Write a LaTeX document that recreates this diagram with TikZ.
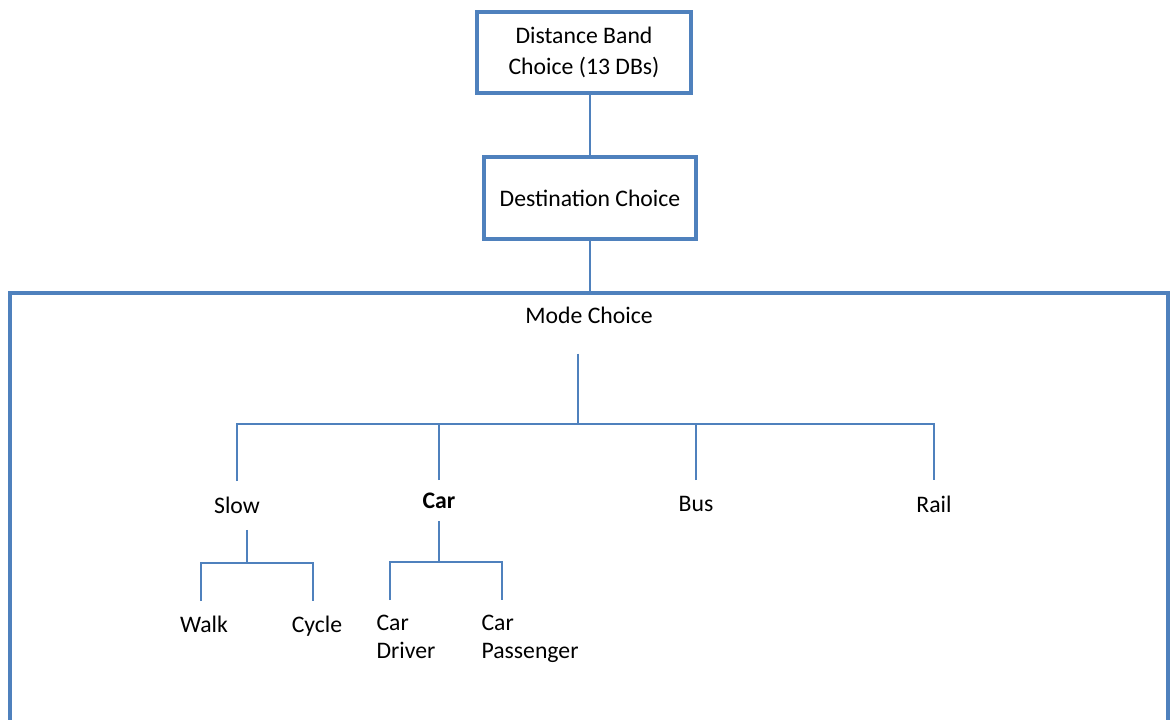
\documentclass[tikz,border=0pt]{standalone}
\usepackage{fontspec}
\setmainfont{Carlito}
\usetikzlibrary{positioning}
\definecolor{boxblue}{RGB}{79,129,189}

\tikzset{
  choicebox/.style={draw=boxblue, line width=2.3pt, align=center, inner sep=2pt},
  frame/.style={draw=boxblue, line width=2.3pt},
  link/.style={draw=boxblue, line width=0.9pt},
  alt/.style={inner xsep=0pt, inner ysep=9pt, anchor=north},
  leaf/.style={inner xsep=0pt, inner ysep=8.5pt, anchor=north, align=left},
}

\begin{document}
\begin{tikzpicture}[x=0.02cm, y=-0.02cm, font=\fontsize{13.5}{18}\selectfont]
\useasboundingbox (0,0) rectangle (1170,720);

% upper levels
\node[choicebox, minimum width=4.28cm, minimum height=1.62cm] (band) at (584,52.5) {Distance Band\\Choice (13 DBs)};
\node[choicebox, minimum width=4.24cm, minimum height=1.64cm] (dest) at (590,198) {Destination Choice};
\draw[link] (dest.north |- band.south) -- (dest.north);

% mode choice frame
\draw[frame] (10,722) -- (10,293) -- (1168,293) -- (1168,722);
\coordinate (frametop) at (590,293);
\draw[link] (dest.south) -- (frametop);
\node[inner ysep=17pt] (mode) at (589,315) {Mode Choice};

% main modes
\coordinate (bar) at (578,424);
\node[alt] (slow) at (237,481) {Slow};
\node[alt, inner ysep=7pt] (car) at (439,480) {\bfseries Car};
\node[alt] (bus) at (696,480) {Bus};
\node[alt] (rail) at (934,480) {Rail};
\draw[link] (mode.south -| bar) -- (bar);
\draw[link] (slow.north) |- (bar) -| (rail.north);
\draw[link] (car.north) -- (car.north |- bar);
\draw[link] (bus.north) -- (bus.north |- bar);

% slow modes
\coordinate (slowfork) at (247,563);
\node[leaf] (walk) at (204,601) {Walk};
\node[leaf] (cycle) at (317,601) {Cycle};
\draw[link] (slowfork |- slow.south) -- (slowfork);
\draw[link] ([xshift=-0.06cm]walk.north) |- (slowfork) -| ([xshift=-0.08cm]cycle.north);

% car modes
\coordinate (carfork) at (439,562);
\node[leaf, font=\fontsize{13.5}{16}\selectfont] (cardrv) at (406,600) {Car\\Driver};
\node[leaf, font=\fontsize{13.5}{16}\selectfont] (carpas) at (530,600) {Car\\Passenger};
\draw[link] (car.south) -- (carfork);
\draw[link] ([xshift=-0.32cm]cardrv.north) |- (carfork) -| ([xshift=-0.56cm]carpas.north);
\end{tikzpicture}
\end{document}
